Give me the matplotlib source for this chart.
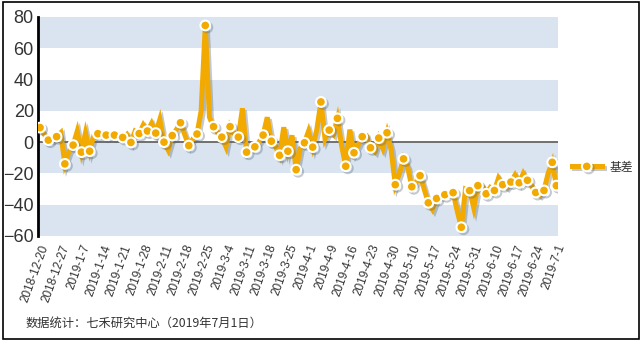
import numpy as np
import matplotlib.pyplot as plt
import matplotlib.patheffects as pe
from matplotlib.patches import Rectangle

plt.rcParams['font.family'] = ['Liberation Sans', 'Noto Sans CJK SC', 'DejaVu Sans']

# daily basis values, 2018-12-20 .. 2019-7-1 (126 trading days)
basis = [
    9.3, 5, 1.3, 1, 3.5, 6, -13.9, -6, -1.9, 7,
    -6.4, 6, -5.8, 4, 5.4, 4, 4.5, 4, 4.5, 3,
    3.0, 5, -0.2, 7, 5.5, 11, 7.1, 12, 5.8, 14.5,
    0.0, -5, 4.2, 8, 12.4, 5, -2.2, 2, 5.2, 20,
    74.6, 16, 9.9, 6, 3.2, -3, 9.9, 5, 3.2, 21.6,
    -6.4, -4, -3.0, 0, 4.5, 15.9, 0.6, -3, -8.4, 9.5,
    -5.8, 4.3, -17.6, -4, -0.4, 7, -3.2, 8, 25.7, 2,
    7.7, 5, 15.2, -2, -15.4, 8, -6.8, -2, 3.5, 4,
    -3.6, -6, 2.6, -4, 6.0, -5, -27.2, -20, -10.7, -16,
    -28.5, -26, -21.4, -30, -38.8, -43, -36.0, -35, -33.6, -33,
    -32.3, -44, -54.4, -30, -31.0, -42, -27.8, -28, -33.0, -29,
    -30.9, -23, -27.2, -29, -25.5, -21, -26.0, -20, -24.4, -28,
    -32.2, -34, -30.9, -20, -12.9, -27.8,
]

# one label every 5 trading days
tick_labels = [
    '2018-12-20', '2018-12-27', '2019-1-7', '2019-1-14', '2019-1-21',
    '2019-1-28', '2019-2-11', '2019-2-18', '2019-2-25', '2019-3-4',
    '2019-3-11', '2019-3-18', '2019-3-25', '2019-4-1', '2019-4-9',
    '2019-4-16', '2019-4-23', '2019-4-30', '2019-5-10', '2019-5-17',
    '2019-5-24', '2019-5-31', '2019-6-10', '2019-6-17', '2019-6-24',
    '2019-7-1',
]
series_name = '基差'
note = '数据统计：七禾研究中心（2019年7月1日）'

line_color = '#F2A900'
band_color = '#D9E4F0'
text_color = '#333333'

fig = plt.figure(figsize=(6.43, 3.44), dpi=100)
ax = fig.add_axes([38 / 643, 0.314, 520 / 643, 0.6366])

x = np.arange(len(basis))
ax.set_xlim(-0.5, len(basis) - 0.6)
ax.set_ylim(-60, 80)

# alternating horizontal bands
for lo in range(-60, 80, 40):
    ax.axhspan(lo, lo + 20, color=band_color, lw=0, zorder=0)
ax.axhline(0, color='#666666', lw=1.3, zorder=1)

marks = list(range(0, len(basis) - 1, 2)) + [len(basis) - 1]
ax.plot(x, basis, color=line_color, lw=3.6, solid_joinstyle='miter',
        marker='o', markevery=marks, ms=7, mfc=line_color, mec='white', mew=1.5,
        label=series_name, zorder=3,
        path_effects=[pe.SimpleLineShadow(offset=(1.5, -1.5), shadow_color='#556677', alpha=0.35),
                      pe.Normal()])

ax.set_yticks(range(-60, 81, 20))
ax.set_xticks(np.arange(0, len(basis), 5))
ax.set_xticklabels(tick_labels, rotation=70, ha='right', va='top', rotation_mode='anchor')
ax.tick_params(axis='y', length=0, pad=3, labelsize=13, labelcolor=text_color)
ax.tick_params(axis='x', length=0, pad=5, labelsize=8.5, labelcolor=text_color)

for s in ['top', 'right', 'bottom']:
    ax.spines[s].set_visible(False)
ax.spines['left'].set_linewidth(2)
ax.spines['left'].set_color('black')

fig.legend(loc='center left', bbox_to_anchor=(572 / 643, 1 - 167 / 344), frameon=False,
           borderaxespad=0, borderpad=0, handlelength=2.5, handletextpad=0.7,
           prop={'family': ['Noto Sans CJK SC'], 'size': 8.5}, labelcolor=text_color)

fig.text(26 / 643, 1 - 323 / 344, note, fontsize=8.8, color=text_color, va='center',
         family=['Noto Sans CJK SC', 'DejaVu Sans'])

fig.patches.append(Rectangle((3 / 643, 5 / 344), 636 / 643, 337 / 344, transform=fig.transFigure,
                             fill=False, ec='black', lw=1.2))

fig.savefig('out.png', dpi=100)
